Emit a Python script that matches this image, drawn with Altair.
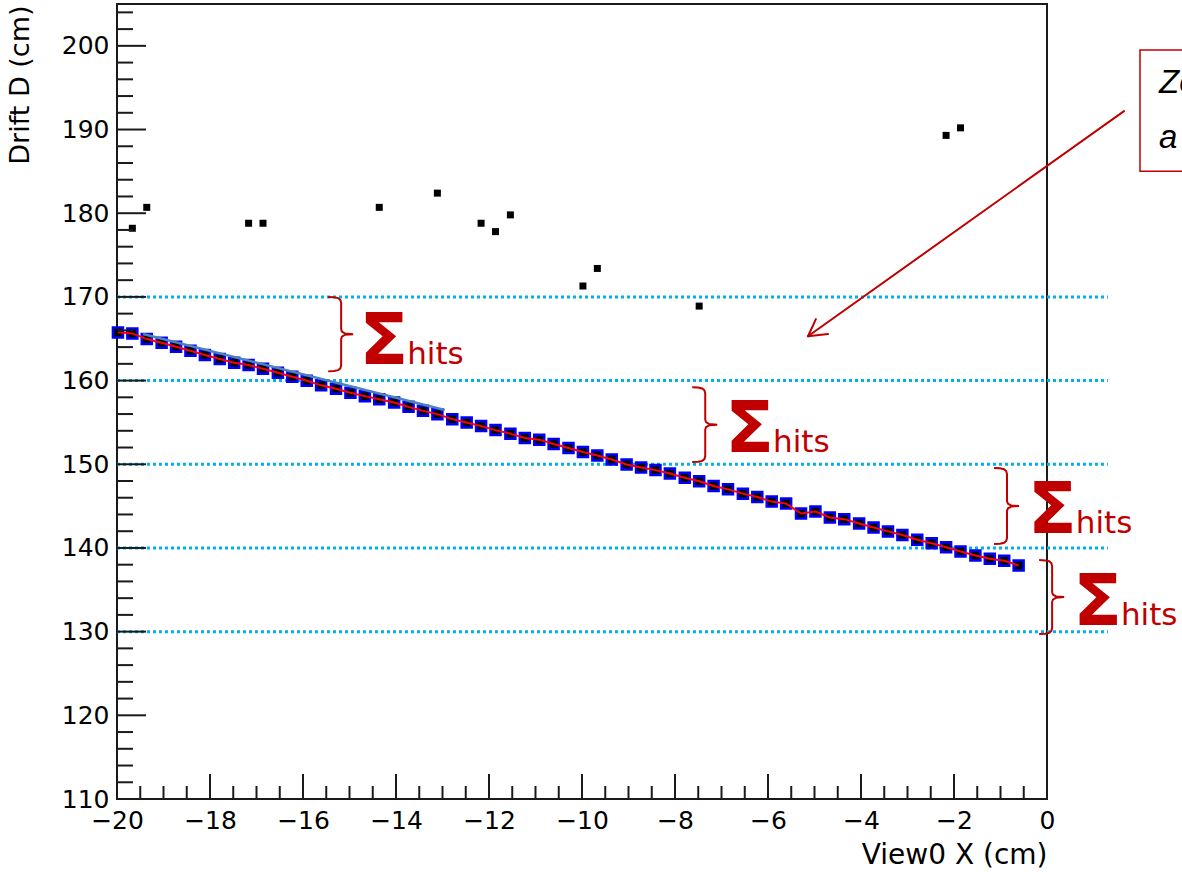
import altair as alt
import numpy as np
import pandas as pd

# ---- track hits (wire position, drift distance) ----
track_x = [-19.98, -19.67, -19.36, -19.04, -18.73, -18.42, -18.11, -17.79, -17.48, -17.17,
           -16.86, -16.54, -16.23, -15.92, -15.61, -15.29, -14.98, -14.67, -14.36, -14.04,
           -13.73, -13.42, -13.11, -12.79, -12.48, -12.17, -11.86, -11.54, -11.23, -10.92,
           -10.61, -10.29, -9.98, -9.67, -9.36, -9.04, -8.73, -8.42, -8.11, -7.79,
           -7.48, -7.17, -6.86, -6.54, -6.23, -5.92, -5.61, -5.29, -4.98, -4.67,
           -4.36, -4.04, -3.73, -3.42, -3.11, -2.79, -2.48, -2.17, -1.86, -1.54,
           -1.23, -0.92, -0.61]
track_y = [165.76, 165.64, 164.96, 164.52, 164.04, 163.56, 163.05, 162.57, 162.13, 161.85,
           161.41, 160.93, 160.45, 159.97, 159.43, 159.02, 158.54, 158.14, 157.78, 157.39,
           156.86, 156.38, 155.99, 155.39, 154.99, 154.56, 154.08, 153.66, 153.14, 152.94,
           152.43, 151.95, 151.47, 151.04, 150.56, 149.98, 149.62, 149.30, 148.90, 148.39,
           147.96, 147.40, 147.00, 146.49, 146.09, 145.54, 145.30, 144.12, 144.35, 143.64,
           143.44, 142.93, 142.45, 141.98, 141.54, 140.99, 140.56, 140.08, 139.57, 139.09,
           138.70, 138.46, 137.91]

# ---- isolated hits off the track ----
stray_x = [-19.67, -19.36, -17.17, -16.86, -14.36, -13.11, -12.17, -11.86, -11.54,
           -9.98, -9.67, -7.48, -2.17, -1.86]
stray_y = [178.2, 180.7, 178.8, 178.8, 180.7, 182.4, 178.8, 177.8, 179.8,
           171.3, 173.4, 168.9, 189.3, 190.2]

# ---- local straight fit on the first segment ----
seg_x = [-19.44, -12.95]
seg_y = [165.56, 156.48]

# ---- horizontal slice boundaries ----
slice_levels = [170, 160, 150, 140, 130]
slice_x_start = -20.0
slice_x_end = 1.31

# ---- "Σ hits" braces: vertical position, top and bottom of each slice window ----
brace_x = [-15.18, -7.35, -0.86, 0.11]
brace_top = [170.0, 159.2, 149.55, 138.55]
brace_bot = [161.1, 150.26, 140.47, 129.71]
label_x = [-14.75, -6.88, -0.37, 0.60]
label_y = [161.97, 151.46, 141.78, 130.79]

# ---- callout arrow and box ----
arrow_from = (1.656, 192.2)
arrow_tip = (-5.14, 165.3)
arrow_arms_x = [-4.97, -4.71]
arrow_arms_y = [167.35, 165.56]
box_x = (2.0, 8.0)
box_y = (185.0, 199.5)
box_lines = ["Zone with", "a few stray hits"]
box_line_y = [194.35, 187.78]
box_text_x = 2.41

# ---- axis ticks ----
x_major = list(range(-20, 1, 2))
x_minor = [v for v in np.arange(-19.5, 0.0, 0.5).tolist() if v % 2 != 0]
y_major = list(range(110, 201, 10))
y_minor = [v for v in range(112, 206, 2) if v % 10 != 0]

W, H = 930, 795
X_DOM, Y_DOM = [-20, 0], [110, 205]
px_x = W / (X_DOM[1] - X_DOM[0])
px_y = H / (Y_DOM[1] - Y_DOM[0])

DARK_RED = "#C00000"
FONT = "DejaVu Sans"

xs = alt.Scale(domain=X_DOM, nice=False, zero=False)
ys = alt.Scale(domain=Y_DOM, nice=False, zero=False)

x_axis = alt.Axis(values=x_major, format="d", domain=False, ticks=False, grid=False,
                  labelFont=FONT, labelFontSize=25, labelColor="black", labelPadding=9,
                  labelFlush=False, labelOverlap=False,
                  title="View0 X (cm)", titleFont=FONT, titleFontSize=28,
                  titleFontWeight="normal", titleColor="black", titleAnchor="end",
                  titleAlign="right", titleBaseline="alphabetic", titleX=W, titleY=64)
y_axis = alt.Axis(values=y_major, format="d", domain=False, ticks=False, grid=False,
                  labelFont=FONT, labelFontSize=25, labelColor="black", labelPadding=8,
                  labelFlush=False, labelOverlap=False,
                  title="Drift D (cm)", titleFont=FONT, titleFontSize=27,
                  titleFontWeight="normal", titleColor="black", titleAngle=270,
                  titleAlign="right", titleBaseline="middle", titleX=-97, titleY=1)


def X(field):
    return alt.X(field, scale=xs, axis=x_axis)


def Y(field):
    return alt.Y(field, scale=ys, axis=y_axis)


track = pd.DataFrame({"x": track_x, "y": track_y})
stray = pd.DataFrame({"x": stray_x, "y": stray_y})

# dotted slice boundaries
slices = alt.Chart(pd.DataFrame({"y": slice_levels, "x0": slice_x_start, "x1": slice_x_end})).mark_rule(
    color="#00B0F0", strokeWidth=3, strokeDash=[3, 3]
).encode(x=X("x0:Q"), x2="x1:Q", y=Y("y:Q"))

hits = alt.Chart(track).mark_square(
    size=100, filled=True, fill="black", stroke="#0000FF", strokeWidth=2.5, opacity=1
).encode(x=X("x:Q"), y=Y("y:Q"))

track_line = alt.Chart(track).mark_line(color="#FF0000", strokeWidth=2).encode(
    x=X("x:Q"), y=Y("y:Q")
)

seg_line = alt.Chart(pd.DataFrame({"x": seg_x, "y": seg_y})).mark_line(
    color="#4F81BD", strokeWidth=2.5
).encode(x=X("x:Q"), y=Y("y:Q"))

strays = alt.Chart(stray).mark_square(size=49, color="black", opacity=1).encode(
    x=X("x:Q"), y=Y("y:Q")
)

# curly braces traced as polylines (pixel offsets converted to data units)
brace_rows = []
for b, (bx, bt, bb) in enumerate(zip(brace_x, brace_top, brace_bot)):
    h = (bt - bb) * px_y
    m = h / 2
    shape = [(-13, 0), (-7, 0.3), (-3, 1.2), (-0.8, 3), (0, 6),
             (0, m - 5), (0.8, m - 2.5), (4, m - 0.6), (12, m), (4, m + 0.6),
             (0.8, m + 2.5), (0, m + 5), (0, h - 6), (-0.8, h - 3), (-3, h - 1.2),
             (-7, h - 0.3), (-13, h)]
    for k, (dx, dy) in enumerate(shape):
        brace_rows.append({"id": b, "k": k, "x": bx + dx / px_x, "y": bt - dy / px_y})
braces = alt.Chart(pd.DataFrame(brace_rows)).mark_line(color=DARK_RED, strokeWidth=2).encode(
    x=X("x:Q"), y=Y("y:Q"), detail="id:N", order="k:Q"
)

labels = pd.DataFrame({"x": label_x, "y": label_y})
sigma = alt.Chart(labels).mark_text(
    text="Σ", font=FONT, fontSize=72, fontWeight="bold", color=DARK_RED,
    align="left", baseline="alphabetic", dx=-2
).encode(x=X("x:Q"), y=Y("y:Q"))
hits_word = alt.Chart(labels).mark_text(
    text="hits", font=FONT, fontSize=31, color=DARK_RED,
    align="left", baseline="alphabetic", dx=46
).encode(x=X("x:Q"), y=Y("y:Q"))

arrow_df = pd.DataFrame({
    "x": [arrow_from[0]] + [arrow_tip[0]] * 2,
    "y": [arrow_from[1]] + [arrow_tip[1]] * 2,
    "x2": [arrow_tip[0]] + arrow_arms_x,
    "y2": [arrow_tip[1]] + arrow_arms_y,
})
arrow = alt.Chart(arrow_df).mark_rule(color=DARK_RED, strokeWidth=2, strokeCap="round").encode(
    x=X("x:Q"), y=Y("y:Q"), x2="x2:Q", y2="y2:Q"
)

box = alt.Chart(pd.DataFrame({"x": [box_x[0]], "x2": [box_x[1]], "y": [box_y[0]], "y2": [box_y[1]]})).mark_rect(
    fillOpacity=0, stroke=DARK_RED, strokeWidth=1.5
).encode(x=X("x:Q"), x2="x2:Q", y=Y("y:Q"), y2="y2:Q")

box_text = alt.Chart(pd.DataFrame({"t": box_lines, "y": box_line_y, "x": box_text_x})).mark_text(
    font="Liberation Sans", fontSize=33, fontStyle="italic", color="black",
    align="left", baseline="alphabetic"
).encode(x=X("x:Q"), y=Y("y:Q"), text="t:N")

# inward ROOT-style ticks
tick_style = dict(color="#1a1a1a", strokeWidth=2)
y_major_ticks = alt.Chart(pd.DataFrame({"v": y_major})).mark_rule(**tick_style).encode(
    y=Y("v:Q"), x=alt.value(0), x2=alt.value(29))
y_minor_ticks = alt.Chart(pd.DataFrame({"v": y_minor})).mark_rule(**tick_style).encode(
    y=Y("v:Q"), x=alt.value(0), x2=alt.value(16))
x_major_ticks = alt.Chart(pd.DataFrame({"v": x_major})).mark_rule(**tick_style).encode(
    x=X("v:Q"), y=alt.value(H), y2=alt.value(H - 25))
x_minor_ticks = alt.Chart(pd.DataFrame({"v": x_minor})).mark_rule(**tick_style).encode(
    x=X("v:Q"), y=alt.value(H), y2=alt.value(H - 13))

chart = alt.layer(
    slices, hits, track_line, seg_line, strays, braces, sigma, hits_word,
    arrow, box, box_text, y_major_ticks, y_minor_ticks, x_major_ticks, x_minor_ticks
).properties(
    width=W, height=H,
    autosize=alt.AutoSizeParams(type="none"),
    padding={"left": 117, "top": 4, "right": 135, "bottom": 73},
    background="white",
).configure_view(stroke="#1a1a1a", strokeWidth=2)

chart.save("out.html", embed_options={"renderer": "svg", "actions": False})
